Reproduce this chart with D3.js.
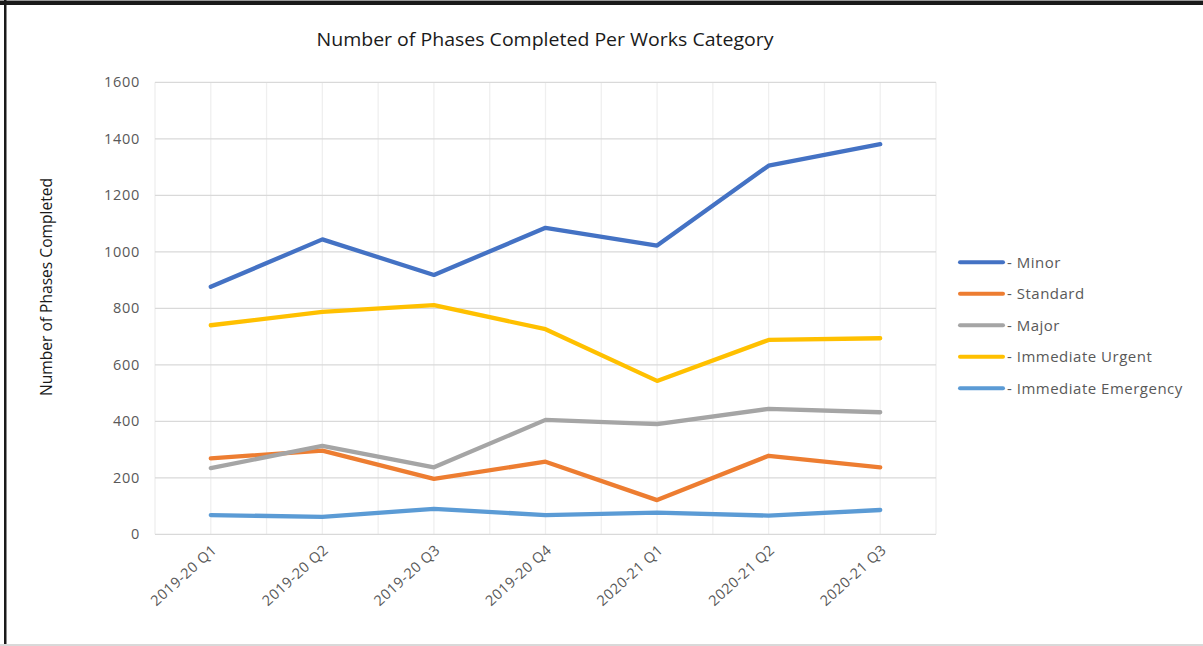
<!DOCTYPE html>
<html>
<head>
<meta charset="utf-8">
<script src="https://cdn.jsdelivr.net/npm/d3@7"></script>
<style>
  html, body { margin: 0; padding: 0; background: #fff; }
  svg { display: block; font-family: "Open Sans", "Liberation Sans", sans-serif; }
</style>
</head>
<body>
<svg id="chart" width="1203" height="646"></svg>
<script>
// Quarterly reporting periods
const categories = ["2019-20 Q1", "2019-20 Q2", "2019-20 Q3", "2019-20 Q4", "2020-21 Q1", "2020-21 Q2", "2020-21 Q3"];

// Phases completed per works category
const minor = [876, 1044, 918, 1085, 1022, 1305, 1381];
const standard = [269, 296, 196, 257, 121, 278, 237];
const major = [234, 313, 237, 405, 390, 444, 432];
const immediateUrgent = [740, 787, 811, 726, 543, 688, 694];
const immediateEmergency = [68, 62, 90, 68, 77, 66, 86];

const seriesNames = ["- Minor", "- Standard", "- Major", "- Immediate Urgent", "- Immediate Emergency"];
const seriesColors = ["#4472C4", "#ED7D31", "#A5A5A5", "#FFC000", "#5B9BD5"];
const yTicks = [0, 200, 400, 600, 800, 1000, 1200, 1400, 1600];

const series = [minor, standard, major, immediateUrgent, immediateEmergency].map((values, i) => ({
  name: seriesNames[i], color: seriesColors[i], values
}));

const svg = d3.select("#chart");

// Outer frame
svg.append("rect").attr("x", 0).attr("y", 1).attr("width", 1203).attr("height", 4).attr("fill", "#1a1a1a");
svg.append("rect").attr("x", 0).attr("y", 0).attr("width", 1203).attr("height", 1).attr("fill", "#9a9a9a");
svg.append("rect").attr("x", 4).attr("y", 0).attr("width", 2.5).attr("height", 646).attr("fill", "#1a1a1a");
svg.append("rect").attr("x", 0).attr("y", 644).attr("width", 1203).attr("height", 2).attr("fill", "#d9d9d9");

const plot = { left: 155, right: 936, top: 82.3, bottom: 534.3 };

const x = d3.scaleBand().domain(categories).range([plot.left, plot.right]).padding(0);
const cx = c => x(c) + x.bandwidth() / 2;
const y = d3.scaleLinear().domain([0, 1600]).range([plot.bottom, plot.top]);

// Vertical gridlines at band edges and centres
const vLines = [];
categories.forEach(c => { vLines.push(x(c)); vLines.push(cx(c)); });
vLines.push(plot.right);
svg.append("g").selectAll("line").data(vLines).join("line")
  .attr("x1", d => d).attr("x2", d => d)
  .attr("y1", plot.top).attr("y2", plot.bottom)
  .attr("stroke", "#efefef").attr("stroke-width", 1.3);

// Horizontal gridlines
svg.append("g").selectAll("line").data(yTicks).join("line")
  .attr("x1", plot.left).attr("x2", plot.right)
  .attr("y1", d => y(d)).attr("y2", d => y(d))
  .attr("stroke", "#d9d9d9").attr("stroke-width", 1.3);

// Y axis
const yAxis = svg.append("g")
  .attr("transform", `translate(${plot.left - 15},0)`)
  .call(d3.axisLeft(y).tickValues(yTicks).tickSize(0).tickPadding(0).tickFormat(d3.format("d")));
yAxis.select(".domain").remove();
yAxis.selectAll("text")
  .attr("fill", "#595959").attr("font-size", 14.5).attr("letter-spacing", "0.7px")
  .attr("font-family", "\"Open Sans\", sans-serif");

// X axis
const xAxis = svg.append("g")
  .attr("transform", `translate(0,${plot.bottom})`)
  .call(d3.axisBottom(x).tickSize(0).tickPadding(0));
xAxis.select(".domain").remove();
xAxis.selectAll("text")
  .attr("fill", "#595959").attr("font-size", 14.5).attr("letter-spacing", "0.5px")
  .attr("font-family", "\"Open Sans\", sans-serif")
  .attr("text-anchor", "end")
  .attr("y", 0).attr("dy", 0)
  .attr("transform", "translate(7,17) rotate(-42)");

// Series lines
const line = d3.line().x((d, i) => cx(categories[i])).y(d => y(d));
svg.append("g").selectAll("path").data(series).join("path")
  .attr("d", s => line(s.values))
  .attr("fill", "none")
  .attr("stroke", s => s.color)
  .attr("stroke-width", 4.3)
  .attr("stroke-linejoin", "round")
  .attr("stroke-linecap", "round");

// Title
svg.append("text")
  .attr("x", 545).attr("y", 46)
  .attr("text-anchor", "middle")
  .attr("font-size", 17.5).attr("fill", "#1a1a1a")
  .attr("textLength", 457).attr("lengthAdjust", "spacingAndGlyphs")
  .text("Number of Phases Completed Per Works Category");

// Y axis title
svg.append("text")
  .attr("transform", "translate(52,287) rotate(-90)")
  .attr("text-anchor", "middle")
  .attr("font-size", 16.5).attr("fill", "#1a1a1a")
  .attr("textLength", 218).attr("lengthAdjust", "spacingAndGlyphs")
  .text("Number of Phases Completed");

// Legend
const legend = svg.append("g").selectAll("g").data(series).join("g")
  .attr("transform", (s, i) => `translate(960,${262.3 + i * 31.5})`);
legend.append("line")
  .attr("x1", 0).attr("x2", 43).attr("y1", 0).attr("y2", 0)
  .attr("stroke", s => s.color).attr("stroke-width", 4).attr("stroke-linecap", "round");
legend.append("text")
  .attr("x", 47).attr("y", 0).attr("dy", "0.36em")
  .attr("font-size", 15).attr("letter-spacing", "0.5px").attr("fill", "#595959")
  .text(s => s.name);
</script>
</body>
</html>
